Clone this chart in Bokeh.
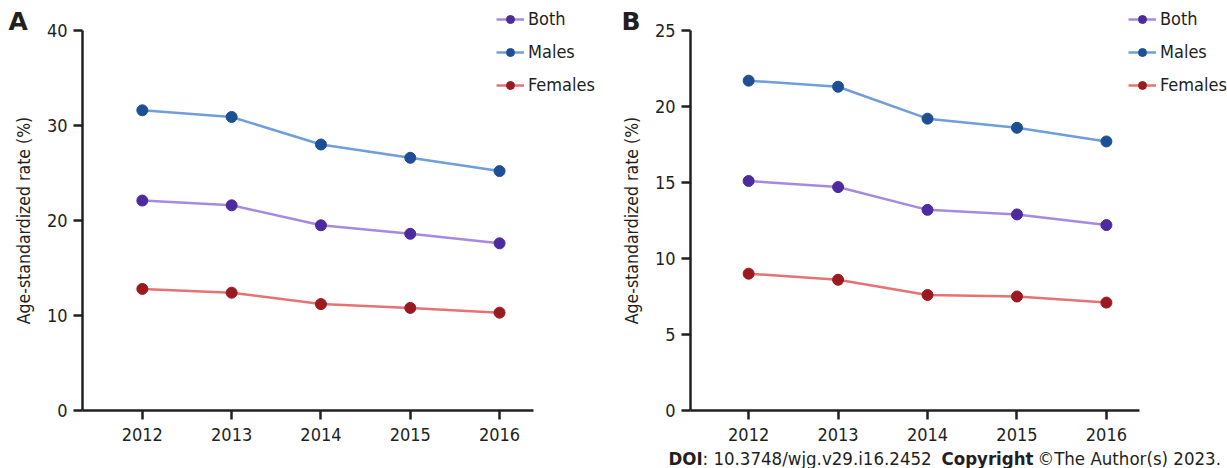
from bokeh.plotting import figure
from bokeh.layouts import row
from bokeh.models import Range1d, FixedTicker, Legend, LegendItem, Label
from bokeh.embed import file_html
from bokeh.resources import INLINE

years = [2012, 2013, 2014, 2015, 2016]
series_names = ["Both", "Males", "Females"]

a_both = [22.1, 21.6, 19.5, 18.6, 17.6]
a_males = [31.6, 30.9, 28.0, 26.6, 25.2]
a_females = [12.8, 12.4, 11.2, 10.8, 10.3]
a_ticks = [0, 10, 20, 30, 40]

b_both = [15.1, 14.7, 13.2, 12.9, 12.2]
b_males = [21.7, 21.3, 19.2, 18.6, 17.7]
b_females = [9.0, 8.6, 7.6, 7.5, 7.1]
b_ticks = [0, 5, 10, 15, 20, 25]

y_label = "Age-standardized rate (%)"

line_colors = ["#a58ae0", "#6f9edb", "#e57373"]
marker_colors = ["#4d2a9d", "#1d4f94", "#9a1a1f"]

FONT = "DejaVu Sans Condensed, Tahoma, Noto Sans, sans-serif"
INK = "#231f20"
H = 468
TOP_PX, BOT_PX = 30, 410  # pixel rows of the y-axis top and bottom


def make_panel(letter, series, yticks, width, axis_left_px, axis_right_px, xr, legend_x, letter_x):
    x0, x1 = xr
    sx = (x1 - x0) / (axis_right_px - axis_left_px)
    x_start = x0 - axis_left_px * sx
    x_end = x1 + (width - axis_right_px) * sx
    ymin, ymax = yticks[0], yticks[-1]
    sy = (ymax - ymin) / (BOT_PX - TOP_PX)
    y_start = ymin - (H - BOT_PX) * sy
    y_end = ymax + TOP_PX * sy

    p = figure(width=width, height=H, output_backend="svg", toolbar_location=None,
               x_range=Range1d(x_start, x_end), y_range=Range1d(y_start, y_end),
               min_border_left=0, min_border_right=0, min_border_top=0, min_border_bottom=0)
    p.outline_line_color = None
    p.xgrid.visible = False
    p.ygrid.visible = False
    p.background_fill_color = None
    p.border_fill_color = None

    items = []
    for name, vals, lc, mc in zip(series_names, series, line_colors, marker_colors):
        r1 = p.line(years, vals, line_color=lc, line_width=2.5)
        r2 = p.scatter(years, vals, marker="circle", size=11, fill_color=mc, line_color=mc)
        items.append(LegendItem(label=name, renderers=[r1, r2]))

    for ax in (p.xaxis[0], p.yaxis[0]):
        ax.axis_line_width = 2.5
        ax.axis_line_color = INK
        ax.major_tick_line_width = 2.5
        ax.major_tick_line_color = INK
        ax.major_tick_out = 9
        ax.major_tick_in = 0
        ax.minor_tick_out = 0
        ax.minor_tick_in = 0
        ax.major_label_text_font = FONT
        ax.major_label_text_font_size = "18px"
        ax.major_label_text_color = INK
    p.xaxis.ticker = FixedTicker(ticks=years)
    p.yaxis.ticker = FixedTicker(ticks=yticks)
    p.xaxis.fixed_location = ymin
    p.xaxis.bounds = (x0, x1)
    p.yaxis.fixed_location = x0
    p.yaxis.bounds = (ymin, ymax)
    p.xaxis.major_label_standoff = 8
    p.yaxis.major_label_standoff = 6
    p.yaxis.axis_label = y_label
    p.yaxis.axis_label_text_font = FONT
    p.yaxis.axis_label_text_font_size = "17.5px"
    p.yaxis.axis_label_text_font_style = "normal"
    p.yaxis.axis_label_text_color = INK
    p.yaxis.axis_label_standoff = 10

    legend = Legend(items=items, location=(legend_x, H - 95), padding=0, margin=0,
                    spacing=12, glyph_width=28, glyph_height=20, label_height=20,
                    label_standoff=4, label_text_font=FONT, label_text_font_size="18px",
                    label_text_color=INK, border_line_color=None,
                    background_fill_alpha=0)
    p.add_layout(legend)

    p.add_layout(Label(x=letter_x, y=H - 6, x_units="screen", y_units="screen",
                       text=letter, text_font="DejaVu Sans", text_font_style="bold",
                       text_font_size="25px", text_color=INK, text_baseline="top"))
    return p


pa = make_panel("A", [a_both, a_males, a_females], a_ticks, 615, 82, 533,
                (2011.33, 2016.38), 496, 8)
pb = make_panel("B", [b_both, b_males, b_females], b_ticks, 612, 75, 524,
                (2011.35, 2016.37), 513, 6)

doi_parts = [("DOI", "bold", 53), (": 10.3748/wjg.v29.i16.2452", "normal", 87),
             ("Copyright", "bold", 326), ("\u00a9The Author(s) 2023.", "normal", 422)]
for txt, style, x in doi_parts:
    pb.add_layout(Label(x=x, y=H - 458, x_units="screen", y_units="screen", text=txt,
                        text_font=FONT, text_font_style=style, text_font_size="18.5px",
                        text_color=INK, text_baseline="alphabetic"))

layout = row(pa, pb)
open("out.html", "w").write(file_html(layout, INLINE))
